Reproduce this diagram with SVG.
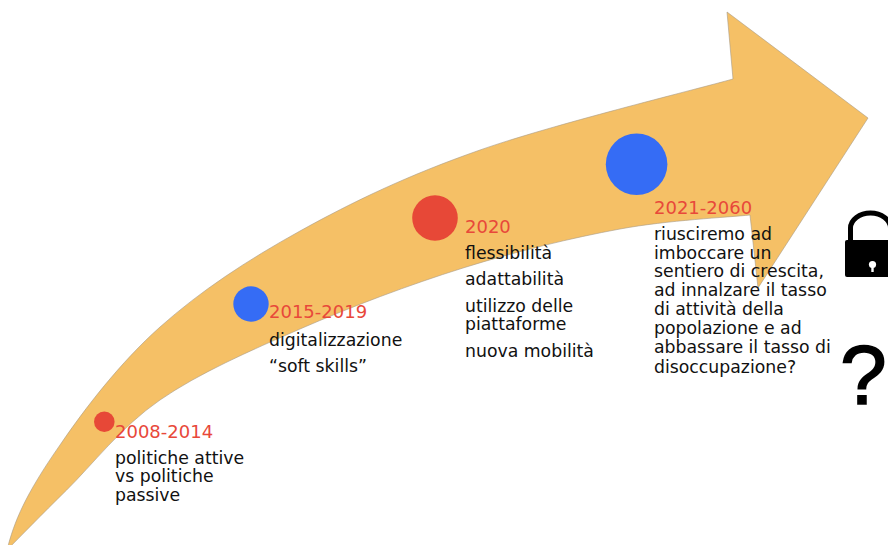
<svg xmlns="http://www.w3.org/2000/svg" width="888" height="545" viewBox="0 0 888 545">
<style>
.yr{font-family:"DejaVu Sans","Liberation Sans",sans-serif;font-size:18px;fill:#E8483A}
.tx{font-family:"DejaVu Sans","Liberation Sans",sans-serif;font-size:17.3px;fill:#111111}
.red{fill:#E74837}
.blue{fill:#356CF5}
</style>
<rect width="888" height="545" fill="#ffffff"/>
<g id="arrow">
<path fill="#F5C066" stroke="#a89a86" stroke-width="0.6" d="M7,550 C14,522 25,495 60,445 C85,408.3 120,362.7 160,327 C200,291.3 246.7,260.5 300,231 C353.3,201.5 407.8,175.3 480,150 C552.2,124.7 690.8,90.8 733,79 L727,12 L868,118 L758,288 L750,215 C728.3,217.3 667.8,220.2 620,229 C572.2,237.8 516.3,251.3 463,268 C409.7,284.7 350.5,307 300,329 C249.5,351 198.9,373.2 160,400 C121.1,426.8 91.7,465.5 66.7,490 C41.7,514.5 19.4,537.5 7,550 Z"/>
</g>
<g id="connectors"></g>
<g id="node-2008">
<circle class="red" cx="104.3" cy="421.7" r="10.3"/>
<text class="yr" x="115" y="438.3">2008-2014</text>
<text class="tx" x="115" y="464">politiche attive</text>
<text class="tx" x="115" y="482.3">vs politiche</text>
<text class="tx" x="115" y="500.6">passive</text>
</g>
<g id="node-2015">
<circle class="blue" cx="251" cy="304" r="17.7"/>
<text class="yr" x="269" y="318.3">2015-2019</text>
<text class="tx" x="269" y="346">digitalizzazione</text>
<text class="tx" x="269" y="371.7">“soft skills”</text>
</g>
<g id="node-2020">
<circle class="red" cx="435" cy="218" r="22.8"/>
<text class="yr" x="465" y="233.3">2020</text>
<text class="tx" x="465" y="259">flessibilità</text>
<text class="tx" x="465" y="285">adattabilità</text>
<text class="tx" x="465" y="311.7">utilizzo delle</text>
<text class="tx" x="465" y="330">piattaforme</text>
<text class="tx" x="465" y="356.7">nuova mobilità</text>
</g>
<g id="node-2021">
<circle class="blue" cx="636.6" cy="164.2" r="30.8"/>
<text class="yr" x="654" y="214">2021-2060</text>
<text class="tx" x="654" y="240">riusciremo ad</text>
<text class="tx" x="654" y="258.5">imboccare un</text>
<text class="tx" x="654" y="277.3">sentiero di crescita,</text>
<text class="tx" x="654" y="296">ad innalzare il tasso</text>
<text class="tx" x="654" y="315">di attività della</text>
<text class="tx" x="654" y="334.3">popolazione e ad</text>
<text class="tx" x="654" y="353.3">abbassare il tasso di</text>
<text class="tx" x="654" y="372.7">disoccupazione?</text>
</g>
<g id="lock">
<path d="M850.5,240 V228 A20,15 0 0 1 890.5,228 V240" fill="none" stroke="#000" stroke-width="5"/>
<rect x="845" y="240" width="50" height="37" rx="2" fill="#000"/>
<circle cx="872.5" cy="264.5" r="3.6" fill="#fff"/>
<rect x="871.3" y="264" width="2.4" height="8" fill="#fff"/>
</g>
<g id="question">
<text x="840" y="404" font-family="Liberation Sans, Arial, sans-serif" font-size="84" fill="#000" stroke="#000" stroke-width="1.6">?</text>
</g>
</svg>
